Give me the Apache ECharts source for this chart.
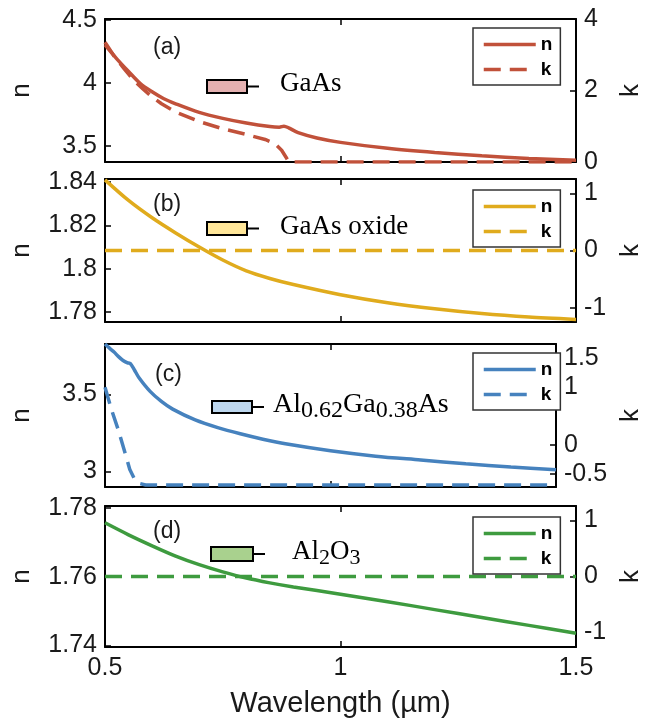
<!DOCTYPE html>
<html><head><meta charset="utf-8">
<script src="https://cdn.jsdelivr.net/npm/echarts@6/dist/echarts.min.js"></script>
<style>html,body{margin:0;padding:0;background:#fff}#c{width:652px;height:719px}</style>
</head><body><div id="c"></div>
<script>
// ---- data (wavelength in µm) ----
const wlA_n = [0.50,0.525,0.55,0.575,0.60,0.625,0.65,0.70,0.75,0.80,0.85,0.87,0.88,0.89,0.91,0.95,1.00,1.10,1.20,1.30,1.40,1.50];
const nA    = [4.30,4.19,4.09,3.995,3.93,3.875,3.835,3.767,3.72,3.683,3.655,3.65,3.658,3.645,3.607,3.565,3.53,3.483,3.45,3.424,3.403,3.388];
const wlA_k = [0.50,0.52,0.54,0.56,0.58,0.60,0.62,0.65,0.70,0.75,0.80,0.84,0.86,0.875,0.885,0.89,1.50];
const kA    = [3.35,2.95,2.62,2.30,2.05,1.82,1.63,1.40,1.13,0.93,0.77,0.63,0.52,0.33,0.12,0.0,0.0];

const wlB_n = [0.50,0.55,0.60,0.65,0.70,0.75,0.80,0.85,0.90,1.00,1.10,1.20,1.30,1.40,1.50];
const nB    = [1.841,1.8315,1.8235,1.8165,1.8100,1.8040,1.7990,1.7955,1.7927,1.7880,1.7843,1.7815,1.7793,1.7777,1.7766];
const wlB_k = [0.50,1.50];
const kB    = [0,0];

const wlC_n = [0.50,0.51,0.52,0.53,0.54,0.55,0.556,0.565,0.575,0.60,0.625,0.65,0.70,0.75,0.80,0.85,0.90,1.00,1.10,1.20,1.30,1.40,1.50];
const nC    = [3.827,3.80,3.775,3.745,3.72,3.705,3.70,3.66,3.61,3.52,3.455,3.405,3.335,3.285,3.245,3.21,3.18,3.135,3.10,3.075,3.05,3.03,3.012];
const wlC_k = [0.50,0.515,0.53,0.545,0.555,0.565,0.575,0.59,1.50];
const kC    = [1.0,0.6,0.25,-0.15,-0.42,-0.58,-0.66,-0.69,-0.69];

const wlD_n = [0.50,0.55,0.60,0.65,0.70,0.75,0.80,0.85,0.90,1.00,1.10,1.20,1.30,1.40,1.50];
const nD    = [1.7757,1.7722,1.769,1.766,1.7635,1.7614,1.7596,1.7582,1.757,1.7549,1.7527,1.7504,1.7481,1.7458,1.7435];
const wlD_k = [0.50,1.50];
const kD    = [0,0];

const xTicks = [0.5, 1, 1.5];
const nTicks = [[3.5,4,4.5],[1.78,1.8,1.82,1.84],[3,3.5],[1.74,1.76,1.78]];
const kTicks = [[0,2,4],[-1,0,1],[-0.5,0,1,1.5],[-1,0,1]];
const nRange = [[3.375,4.505],[1.7754,1.8414],[2.90,3.827],[1.7395,1.7806]];
const kRange = [[0,4],[-1.25,1.25],[-0.724,1.75],[-1.26,1.26]];
const panelLabels = ['(a)','(b)','(c)','(d)'];
const materials = [[['GaAs',0]],[['GaAs oxide',0]],[['Al',0],['0.62',1],['Ga',0],['0.38',1],['As',0]],[['Al',0],['2',1],['O',0],['3',1]]];
const xName = 'Wavelength (µm)';

// ---- styles ----
const colors = ['#C1513A','#E0AB1D','#4682BE','#3E9B3F'];
const fills  = ['#E4B1B1','#FFE699','#BDD7EE','#A9D18E'];
const grids = [{top:19,height:143},{top:179,height:143},{top:344,height:143},{top:506,height:144}];
const legendTops = [28,190,353,517];
const matPos = [ {rx:207,ry:80,rw:40,rh:13,tx:280,ty:84,fs:27,ss:22},
                 {rx:207,ry:222,rw:40,rh:13,tx:280,ty:227,fs:27,ss:22},
                 {rx:212,ry:401,rw:40,rh:12,tx:273,ty:405,fs:28,ss:24},
                 {rx:211,ry:547,rw:42,rh:14,tx:292,ty:552,fs:27,ss:22} ];
const labelPos = [[153,48],[153,205],[155,375],[153,532]];
const SANS = '"Liberation Sans", Arial, sans-serif';
const SERIF = '"Liberation Serif", "Times New Roman", serif';
const AX = '#000', TXT = '#1a1a1a';

const pairs = (xs, ys) => xs.map((x,i)=>[x, ys[i]]);
const nData = [pairs(wlA_n,nA), pairs(wlB_n,nB), pairs(wlC_n,nC), pairs(wlD_n,nD)];
const kData = [pairs(wlA_k,kA), pairs(wlB_k,kB), pairs(wlC_k,kC), pairs(wlD_k,kD)];
const ids = ['a','b','c','d'];

const option = {animation:false, grid:[], xAxis:[], yAxis:[], series:[], legend:[], graphic:[]};
const axLine = {show:true, onZero:false, lineStyle:{color:AX, width:2}};
const tick = (vals) => ({show:true, inside:true, length:6, lineStyle:{color:AX,width:1.5}, customValues: vals});

for (let i=0;i<4;i++){
  option.grid.push({left:105, right:75, top:grids[i].top, height:grids[i].height, containLabel:false});
  option.xAxis.push({type:'value', gridIndex:i, position:'bottom', min:0.5, max:1.5, interval:0.5,
    axisLine:axLine, axisTick:{show:true,inside:true,length:6,lineStyle:{color:AX,width:1.5}},
    splitLine:{show:false},
    axisLabel:{show:i===3, fontSize:25, fontFamily:SANS, color:TXT, margin:9},
    name: i===3 ? xName : '', nameLocation:'middle', nameGap:42,
    nameTextStyle:{fontSize:29, fontFamily:SANS, color:TXT}});
  option.xAxis.push({type:'value', gridIndex:i, position:'top', min:0.5, max:1.5, interval:0.5,
    axisLine:axLine, axisTick:{show:true,inside:true,length:6,lineStyle:{color:AX,width:1.5}},
    splitLine:{show:false}, axisLabel:{show:false}});
  option.yAxis.push({type:'value', gridIndex:i, position:'left', min:nRange[i][0], max:nRange[i][1],
    axisLine:axLine, axisTick:tick(nTicks[i]), splitLine:{show:false},
    axisLabel:{show:true, customValues:nTicks[i], fontSize:25, fontFamily:SANS, color:TXT, margin:8},
    name:'n', nameLocation:'middle', nameGap:70, nameRotate:90,
    nameTextStyle:{fontSize:26, fontFamily:SANS, color:TXT}});
  option.yAxis.push({type:'value', gridIndex:i, position:'right', min:kRange[i][0], max:kRange[i][1],
    axisLine:axLine, axisTick:tick(kTicks[i]), splitLine:{show:false},
    axisLabel:{show:true, customValues:kTicks[i], fontSize:25, fontFamily:SANS, color:TXT, margin:8},
    name:'k', nameLocation:'middle', nameGap:42, nameRotate:90,
    nameTextStyle:{fontSize:26, fontFamily:SANS, color:TXT}});
  option.series.push({type:'line', name:'n_'+ids[i], xAxisIndex:2*i, yAxisIndex:2*i, data:nData[i],
    symbol:'none', smooth:0.3, lineStyle:{color:colors[i], width:3.5}, itemStyle:{color:colors[i]}, z:3});
  option.series.push({type:'line', name:'k_'+ids[i], xAxisIndex:2*i, yAxisIndex:2*i+1, data:kData[i],
    symbol:'none', smooth:false, lineStyle:{color:colors[i], width:3.5, type:[17,9]}, itemStyle:{color:colors[i]}, z:2});
  option.legend.push({data:['n_'+ids[i],'k_'+ids[i]], orient:'vertical', left:473, top:legendTops[i],
    formatter:(nm)=>nm.split('_')[0], backgroundColor:'#fff', borderColor:'#333', borderWidth:1.5,
    padding:[7,8,6,9], itemWidth:52, itemHeight:14, itemGap:6, selectedMode:false,
    itemStyle:{opacity:0, borderWidth:0}, lineStyle:{width:3.5},
    textStyle:{fontSize:19, fontWeight:'bold', fontFamily:SANS, color:'#000', lineHeight:19}});

  // panel label
  option.graphic.push({type:'text', x:labelPos[i][0], y:labelPos[i][1], silent:true,
    style:{text:panelLabels[i], fontSize:23, fontFamily:SANS, fill:TXT, align:'left', verticalAlign:'middle'}});
  // material tag
  const p = matPos[i];
  option.graphic.push({type:'rect', shape:{x:p.rx, y:p.ry, width:p.rw, height:p.rh}, silent:true,
    style:{fill:fills[i], stroke:'#000', lineWidth:2}});
  option.graphic.push({type:'line', shape:{x1:p.rx+p.rw, y1:p.ry+p.rh/2, x2:p.rx+p.rw+12, y2:p.ry+p.rh/2}, silent:true,
    style:{stroke:'#000', lineWidth:2}});
  const cv = document.createElement('canvas').getContext('2d');
  let cx = p.tx;
  materials[i].forEach(([t,sub])=>{
    const fs = sub ? p.ss : p.fs;
    cv.font = fs+'px "Liberation Serif"';
    option.graphic.push({type:'text', x:cx, y: sub ? p.ty+6 : p.ty, silent:true,
      style:{text:t, fontSize:fs, fontFamily:SERIF, fill:'#000', align:'left', verticalAlign:'middle'}});
    cx += cv.measureText(t).width;
  });
}

const chart = echarts.init(document.getElementById('c'), null, {renderer:'canvas'});
chart.setOption(option);
</script></body></html>
